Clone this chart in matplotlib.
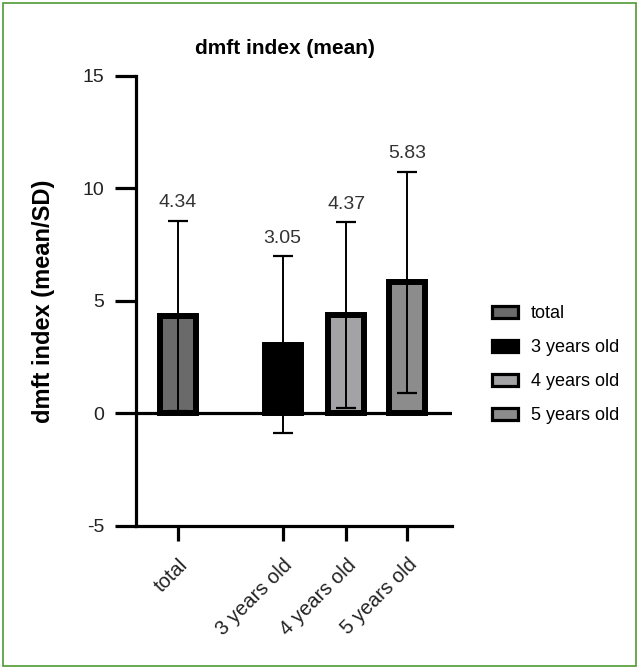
import matplotlib
matplotlib.use('Agg')
import matplotlib.pyplot as plt
from matplotlib.patches import Patch, Rectangle

# data
groups = ['total', '3 years old', '4 years old', '5 years old']
means = [4.34, 3.05, 4.37, 5.83]
sds = [4.22, 3.93, 4.13, 4.92]
fills = ['#6a6a6a', '#000000', '#a3a3a6', '#8c8c8c']

# bar slots (blank slot between total and the age groups)
xpos = [0, 1.66, 2.67, 3.64]

plt.rcParams['font.family'] = ['Liberation Sans', 'DejaVu Sans']

fig = plt.figure(figsize=(6.39, 6.69), dpi=100)
ax = fig.add_axes([0.2128, 0.2138, 0.4946, 0.6726])

ax.bar(xpos, means, width=0.57, color=fills, edgecolor='black', linewidth=4.3, zorder=3)
ax.errorbar(xpos, means, yerr=sds, fmt='none', ecolor='black', elinewidth=1.4,
            capsize=7, capthick=1.6, zorder=4)

for x, m, s in zip(xpos, means, sds):
    ax.annotate('%.2f' % m, (x, m + s), xytext=(0, 7), textcoords='offset points',
                ha='center', va='bottom', fontsize=14, color='#333333')

ax.axhline(0, color='black', linewidth=2.3, zorder=2)

ax.set_xlim(-0.667, 4.35)
ax.set_ylim(-5, 15)
ax.set_yticks([-5, 0, 5, 10, 15])
ax.set_yticklabels(['-5', '0', '5', '10', '15'], fontsize=14, color='#222222')
ax.set_xticks(xpos)
ax.set_xticklabels(groups, rotation=45, ha='right', rotation_mode='anchor',
                   fontsize=14.5, color='#222222')

for side in ['top', 'right']:
    ax.spines[side].set_visible(False)
for side in ['left', 'bottom']:
    ax.spines[side].set_linewidth(2.3)
ax.tick_params(axis='y', length=15, width=2.3, pad=8)
ax.tick_params(axis='x', length=11, width=2.3, pad=10)

ax.set_ylabel('dmft index (mean/SD)', fontsize=17, fontweight='bold', labelpad=20)
ax.set_title('dmft index (mean)', fontsize=15, fontweight='bold', x=0.47, pad=16)

handles = [Patch(facecolor=c, edgecolor='black', linewidth=2.3) for c in fills]
fig.legend(handles, groups, loc='center left', bbox_to_anchor=(0.745, 0.455),
           frameon=False, fontsize=13, handlelength=1.4, handleheight=0.65,
           labelspacing=0.95, handletextpad=0.75)

# thin green frame round the figure
fig.patches.append(Rectangle((0.004, 0.004), 0.992, 0.992, transform=fig.transFigure,
                             fill=False, edgecolor='#4f9a34', linewidth=1.2))

plt.savefig('out.png', dpi=100)
